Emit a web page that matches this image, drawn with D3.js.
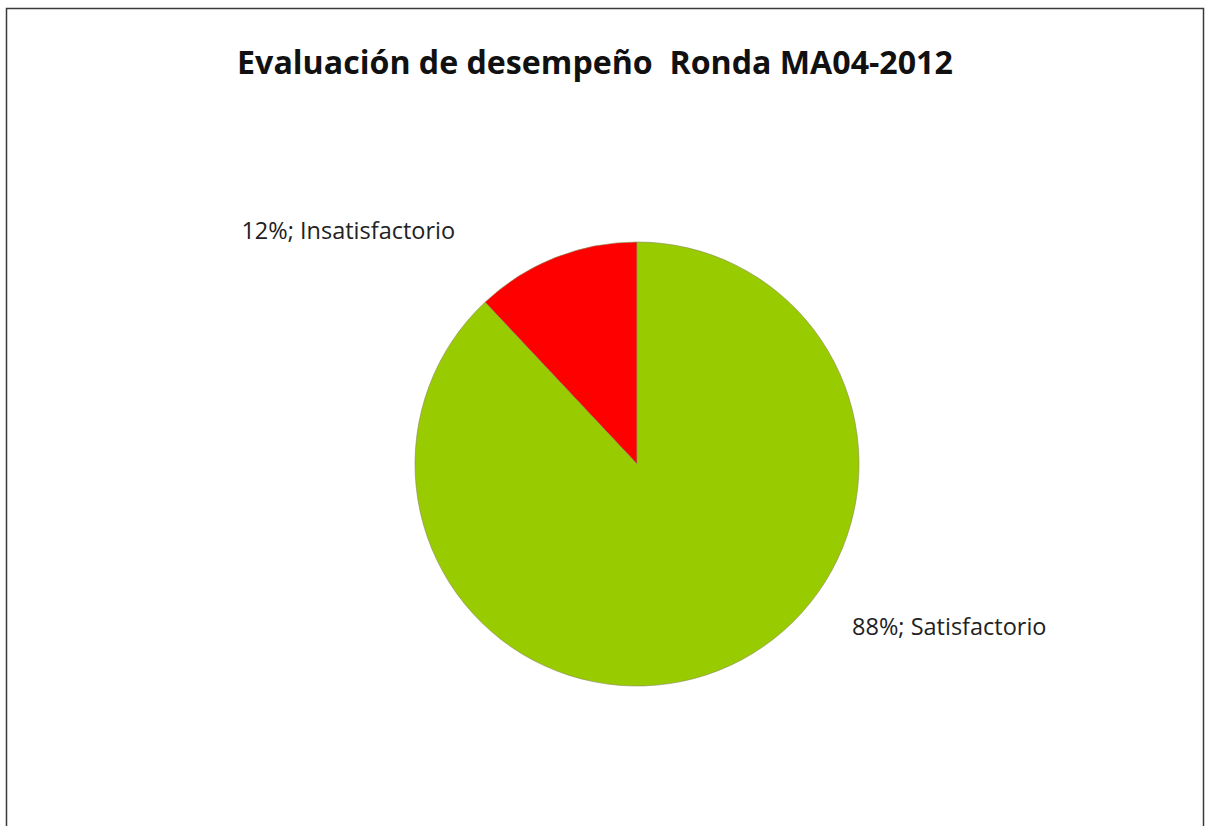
<!DOCTYPE html>
<html>
<head>
<meta charset="utf-8">
<script src="https://cdn.jsdelivr.net/npm/d3@7"></script>
<style>
  body { margin: 0; background: #fff; }
  svg { display: block; }
</style>
</head>
<body>
<div id="chart"></div>
<script>
// data
var categories = ["Insatisfactorio", "Satisfactorio"];
var values = [12, 88];
var colors = ["#ff0000", "#99cc00"];
var title = "Evaluación de desempeño  Ronda MA04-2012";

var width = 1209, height = 826;
var cx = 637, cy = 464, radius = 222;

var svg = d3.select("#chart").append("svg")
    .attr("width", width)
    .attr("height", height);

// chart frame (bottom runs off the page)
svg.append("rect")
    .attr("x", 6.5)
    .attr("y", 8.5)
    .attr("width", 1197)
    .attr("height", 840)
    .attr("fill", "#fff")
    .attr("stroke", "#3a3a3a")
    .attr("stroke-width", 1.5);

var t = svg.append("text")
    .attr("x", 595)
    .attr("y", 74)
    .attr("text-anchor", "middle")
    .style("font-family", "'Open Sans', sans-serif")
    .style("font-weight", "bold")
    .style("font-size", "30px")
    .style("fill", "#111")
    .style("white-space", "pre")
    .attr("xml:space", "preserve")
    .text(title);

// fit title width to the reference (~716px)
var tw = t.node().getComputedTextLength();
t.style("font-size", (30 * 716 / tw) + "px");

var data = categories.map(function (c, i) {
    return {name: c, value: values[i], color: colors[i]};
});

// red wedge runs counter-clockwise from 12 o'clock, green fills the rest
var pie = d3.pie()
    .sort(null)
    .value(function (d) { return d.value; })
    .startAngle(-2 * Math.PI * values[0] / 100)
    .endAngle(2 * Math.PI - 2 * Math.PI * values[0] / 100);

var arc = d3.arc()
    .innerRadius(0)
    .outerRadius(radius);

var g = svg.append("g")
    .attr("transform", "translate(" + cx + "," + cy + ")");

var arcs = pie(data);

g.selectAll("path.slice")
    .data(arcs)
    .enter().append("path")
    .attr("class", "slice")
    .attr("d", arc)
    .attr("fill", function (d) { return d.data.color; })
    .attr("stroke", "#8a8a5a")
    .attr("stroke-width", 0.6);

// label placement (angle in degrees clockwise from top, distance from centre)
var labelPos = [
    {angle: -37.9, r: 296, anchor: "end"},
    {angle: 127.2, r: 270, anchor: "start"}
];

g.selectAll("text.lbl")
    .data(arcs)
    .enter().append("text")
    .attr("class", "lbl")
    .attr("transform", function (d, i) {
        var p = d3.pointRadial(labelPos[i].angle * Math.PI / 180, labelPos[i].r);
        return "translate(" + p[0] + "," + p[1] + ")";
    })
    .attr("dy", "0.35em")
    .attr("text-anchor", function (d, i) { return labelPos[i].anchor; })
    .style("font-family", "'Open Sans', sans-serif")
    .style("font-size", "23.5px")
    .style("fill", "#222")
    .text(function (d) { return d.data.value + "%; " + d.data.name; });
</script>
</body>
</html>
